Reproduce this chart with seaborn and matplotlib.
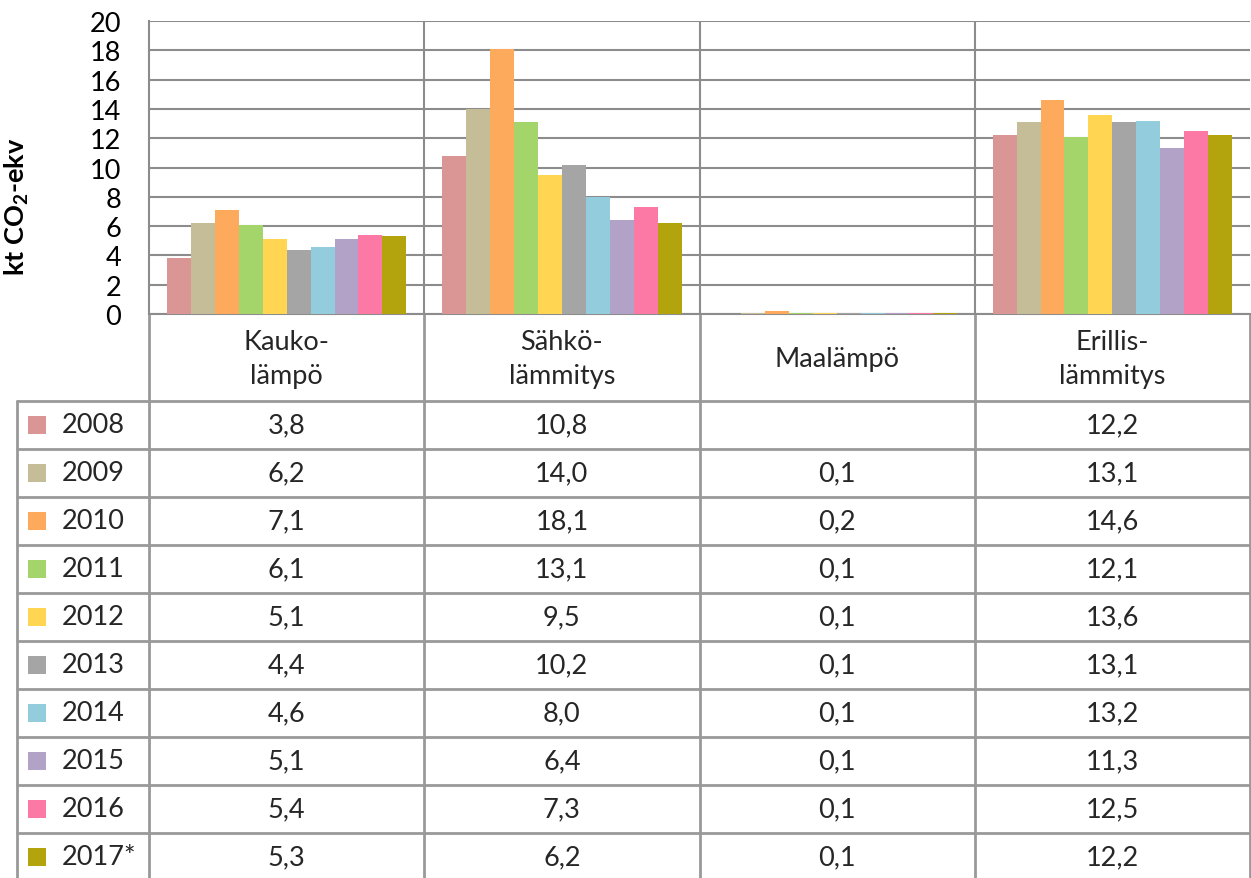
import matplotlib
matplotlib.use("Agg")
import matplotlib.pyplot as plt
import seaborn as sns
import pandas as pd
import numpy as np

# data
categories = ["Kauko-\nlämpö", "Sähkö-\nlämmitys", "Maalämpö", "Erillis-\nlämmitys"]
years = ["2008", "2009", "2010", "2011", "2012", "2013", "2014", "2015", "2016", "2017*"]
kaukolampo = [3.8, 6.2, 7.1, 6.1, 5.1, 4.4, 4.6, 5.1, 5.4, 5.3]
sahkolammitys = [10.8, 14.0, 18.1, 13.1, 9.5, 10.2, 8.0, 6.4, 7.3, 6.2]
maalampo = [np.nan, 0.1, 0.2, 0.1, 0.1, 0.1, 0.1, 0.1, 0.1, 0.1]
erillislammitys = [12.2, 13.1, 14.6, 12.1, 13.6, 13.1, 13.2, 11.3, 12.5, 12.2]
colors = ["#D99694", "#C4BD97", "#FDAA5D", "#A3D56B", "#FFD551", "#A5A5A5",
          "#93CDDD", "#B3A2C7", "#FC79A6", "#B3A40D"]

series = [kaukolampo, sahkolammitys, maalampo, erillislammitys]
rows = []
for cat, vals in zip(categories, series):
    for yr, v in zip(years, vals):
        rows.append({"cat": cat, "year": yr, "value": v})
df = pd.DataFrame(rows)

sns.set_theme(style="white")
plt.rcParams["font.family"] = ["Lato", "DejaVu Sans"]
plt.rcParams["mathtext.fontset"] = "custom"
plt.rcParams["mathtext.rm"] = "Lato"
plt.rcParams["mathtext.bf"] = "Lato:bold"

FS = 19.5
W, H = 1251, 879
fig = plt.figure(figsize=(W / 100, H / 100), dpi=100)
left, right, top, bottom = 149, 1250, 22, 315
ax = fig.add_axes([left / W, 1 - bottom / H, (right - left) / W, (bottom - top) / H])

sns.barplot(data=df, x="cat", y="value", hue="year", order=categories,
            hue_order=years, palette=colors, saturation=1, width=0.87,
            legend=False, ax=ax, edgecolor="none")

ax.set_ylim(0, 20)
ax.set_xlim(-0.5, len(categories) - 0.5)
ax.set_yticks(range(0, 21, 2))
ax.yaxis.grid(True, color="#8C8C8C", linewidth=1.5)
ax.set_axisbelow(True)
ax.tick_params(axis="y", length=0, pad=20, labelsize=FS, labelcolor="black")
ax.set_xticks([])
ax.set_xlabel("")
ax.set_ylabel(r"kt CO$_\mathbf{2}$-ekv", fontsize=FS, fontweight="bold", color="black")
ax.yaxis.set_label_coords(-0.107, 0.37)
for s in ["top", "right"]:
    ax.spines[s].set_visible(False)
ax.spines["left"].set_color("#8C8C8C")
ax.spines["left"].set_linewidth(1.5)
ax.spines["bottom"].set_color("#8C8C8C")
ax.spines["bottom"].set_linewidth(1.5)
ax.spines["bottom"].set_zorder(0.6)
for i in range(1, len(categories)):
    ax.axvline(i - 0.5, color="#8C8C8C", linewidth=1.5, zorder=0.6)

# data table below the plot, drawn in pixel coordinates
tab = fig.add_axes([0, 0, 1, (H - bottom - 1) / H])
tab.set_xlim(0, W)
tab.set_ylim(H, bottom + 1)
tab.axis("off")
line_kw = dict(color="#999999", linewidth=2)
cell_w = (right - left) / len(categories)
header_bottom = 402
row_h = 48
tab_left = 17
n = len(years)
xs = [left + i * cell_w for i in range(len(categories) + 1)]
for i, x in enumerate(xs):
    tab.plot([x, x], [bottom + 1, H], **line_kw)
tab.plot([tab_left, tab_left], [header_bottom, H], **line_kw)
for r in range(n + 1):
    y = header_bottom + r * row_h
    tab.plot([tab_left, right], [y, y], **line_kw)

for j, cat in enumerate(categories):
    tab.text(xs[j] + cell_w / 2, (bottom + header_bottom) / 2 + 1, cat,
             ha="center", va="center", fontsize=FS, linespacing=1.45)

for r, yr in enumerate(years):
    yc = header_bottom + r * row_h + row_h / 2
    tab.add_patch(plt.Rectangle((28, yc - 9), 18, 18, color=colors[r], lw=0))
    tab.text(62, yc, yr, ha="left", va="center", fontsize=FS)
    for j, vals in enumerate(series):
        v = vals[r]
        if not np.isnan(v):
            tab.text(xs[j] + cell_w / 2, yc, f"{v:.1f}".replace(".", ","),
                     ha="center", va="center", fontsize=FS)

fig.savefig("out.png", dpi=100)
